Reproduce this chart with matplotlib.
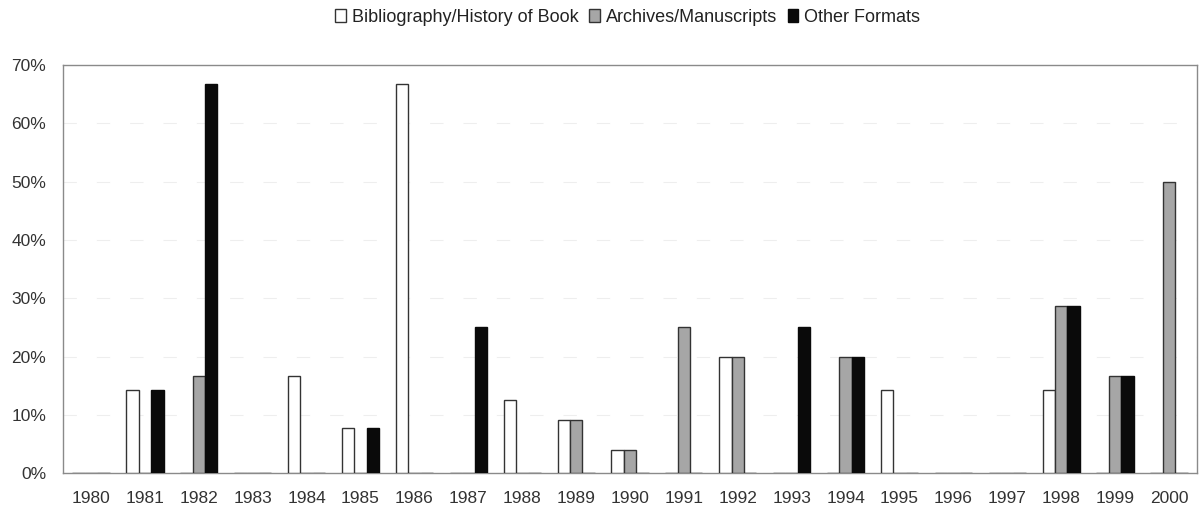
import matplotlib
matplotlib.use('Agg')
import matplotlib.pyplot as plt
import numpy as np

plt.rcParams['font.family'] = ['Liberation Sans', 'DejaVu Sans']

years = [str(y) for y in range(1980, 2001)]
bibliography = [0, 14.3, 0, 0, 16.7, 7.7, 66.7, 0, 12.5, 9.1, 4.0,
                0, 20.0, 0, 0, 14.3, 0, 0, 14.3, 0, 0]
archives = [0, 0, 16.7, 0, 0, 0, 0, 0, 0, 9.1, 4.0,
            25.0, 20.0, 0, 20.0, 0, 0, 0, 28.6, 16.7, 50.0]
other = [0, 14.3, 66.7, 0, 0, 7.7, 0, 25.0, 0, 0, 0,
         0, 0, 25.0, 20.0, 0, 0, 0, 28.6, 16.7, 0]
series_names = ['Bibliography/History of Book', 'Archives/Manuscripts', 'Other Formats']

fig = plt.figure(figsize=(12, 5.17), dpi=100)
ax = fig.add_axes([0.0525, 0.085, 0.945, 0.789])

x = np.arange(len(years))
w = 0.23
ax.bar(x - w, bibliography, w, color='white', edgecolor='#333333', lw=1.0,
       label=series_names[0], zorder=3)
ax.bar(x, archives, w, color='#a6a6a6', edgecolor='#333333', lw=1.0,
       label=series_names[1], zorder=3)
ax.bar(x + w, other, w, color='#0a0a0a', edgecolor='#0a0a0a', lw=1.0,
       label=series_names[2], zorder=3)

ax.set_xlim(-0.52, 20.52)
ax.set_ylim(0, 70)
ax.set_yticks(range(0, 71, 10))
ax.set_yticklabels([f'{v}%' for v in range(0, 71, 10)])
ax.set_xticks(x)
ax.set_xticklabels(years)
ax.tick_params(length=0, labelsize=12.5, colors='#333333')
ax.tick_params(axis='x', pad=13)
ax.tick_params(axis='y', pad=12)
ax.yaxis.grid(True, color='#eeeeee', lw=0.8, ls=(0, (12, 18)), zorder=0)
for s in ax.spines.values():
    s.set_color('#8a8a8a')
    s.set_linewidth(1.0)

fig.legend(loc='center', bbox_to_anchor=(0.523, 0.966), ncol=3, frameon=False,
           fontsize=13, handlelength=0.6, handleheight=0.7, handletextpad=0.3,
           columnspacing=0.6, labelcolor='#222222')

fig.savefig('out.png', dpi=100)
